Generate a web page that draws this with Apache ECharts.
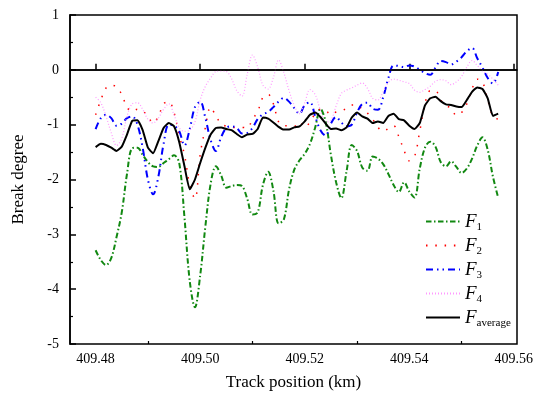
<!DOCTYPE html>
<html>
<head>
<meta charset="utf-8">
<script src="https://cdn.jsdelivr.net/npm/echarts@6/dist/echarts.min.js"></script>
<style>
html,body{margin:0;padding:0;background:#fff;}
#chart{width:542px;height:399px;}
</style>
</head>
<body>
<div id="chart"></div>
<script>
// Track positions (km)
const positions = [
 409.480,409.481,409.482,409.483,409.484,409.485,409.486,409.487,409.488,409.489,
 409.490,409.491,409.492,409.493,409.494,409.495,409.496,409.497,409.498,409.499,
 409.500,409.501,409.502,409.503,409.504,409.505,409.506,409.507,409.508,409.509,
 409.510,409.511,409.512,409.513,409.514,409.515,409.516,409.517,409.518,409.519,
 409.520,409.521,409.522,409.523,409.524,409.525,409.526,409.527,409.528,409.529,
 409.530,409.531,409.532,409.533,409.534,409.535,409.536,409.537,409.538,409.539,
 409.540,409.541,409.542,409.543,409.544,409.545,409.546,409.547,409.548,409.549,
 409.550,409.551,409.552,409.553,409.554,409.555,409.556,409.557
];
const F1 = [
 -3.29,-3.47,-3.56,-3.43,-3.05,-2.60,-1.90,-1.43,-1.42,-1.55,
 -1.68,-1.76,-1.77,-1.70,-1.63,-1.56,-1.70,-2.70,-3.85,-4.33,
 -3.75,-2.85,-2.08,-1.76,-1.92,-2.15,-2.12,-2.10,-2.12,-2.35,
 -2.64,-2.60,-2.10,-1.86,-2.20,-2.80,-2.73,-2.18,-1.82,-1.65,
 -1.53,-1.35,-1.05,-0.71,-0.95,-1.55,-2.05,-2.34,-1.85,-1.37,
 -1.48,-1.78,-1.84,-1.58,-1.62,-1.72,-1.90,-2.10,-2.23,-2.05,
 -2.22,-2.33,-1.80,-1.42,-1.31,-1.40,-1.68,-1.76,-1.67,-1.77,
 -1.88,-1.80,-1.62,-1.38,-1.23,-1.46,-1.95,-2.33
];
const F2 = [
 -0.82,-0.55,-0.33,-0.28,-0.31,-0.45,-0.68,-0.76,-0.72,-0.75,
 -0.85,-0.97,-0.85,-0.62,-0.58,-0.78,-1.20,-1.55,-2.10,-2.35,
 -1.55,-1.05,-0.68,-0.84,-0.98,-1.03,-1.05,-1.05,-1.05,-1.06,
 -0.90,-0.76,-0.50,-0.45,-0.62,-0.95,-1.02,-1.02,-1.03,-0.95,
 -1.05,-0.95,-0.80,-0.72,-0.74,-0.82,-0.77,-0.75,-0.70,-0.64,
 -0.64,-0.72,-0.79,-0.90,-1.05,-1.12,-1.07,-1.02,-1.22,-1.47,
 -1.66,-1.58,-1.12,-0.62,-0.38,-0.38,-0.55,-0.65,-0.70,-0.83,
 -0.78,-0.62,-0.35,-0.17,-0.22,-0.55,-0.85,-0.90
];
const F3 = [
 -1.08,-0.88,-0.82,-0.88,-1.02,-0.98,-0.88,-0.85,-1.00,-1.42,
 -2.00,-2.27,-1.95,-1.35,-1.00,-1.02,-1.12,-1.38,-1.08,-0.68,
 -0.58,-0.88,-1.28,-1.48,-1.23,-1.06,-1.03,-1.06,-1.16,-1.15,
 -1.06,-0.90,-0.81,-0.77,-0.68,-0.58,-0.51,-0.58,-0.70,-0.80,
 -0.64,-0.59,-0.85,-1.10,-1.20,-0.98,-0.86,-0.96,-1.03,-1.00,
 -0.78,-0.62,-0.60,-0.71,-0.73,-0.50,-0.15,0.08,0.07,0.05,
 0.08,0.06,0.00,-0.06,-0.09,0.04,0.16,0.14,0.10,0.15,
 0.23,0.34,0.40,0.21,0.04,-0.15,-0.25,-0.04
];
const F4 = [
 -0.50,-0.60,-0.85,-1.15,-1.38,-1.25,-0.85,-0.62,-0.60,-0.72,
 -0.90,-0.97,-0.88,-0.72,-0.62,-0.82,-1.06,-1.12,-1.10,-0.95,
 -0.55,-0.30,-0.15,-0.03,-0.02,-0.03,-0.16,-0.38,-0.48,-0.08,
 0.27,0.05,-0.28,-0.35,-0.14,0.18,-0.05,-0.38,-0.65,-0.80,
 -0.60,-0.36,-0.45,-0.74,-0.95,-0.92,-0.66,-0.43,-0.37,-0.33,
 -0.28,-0.24,-0.34,-0.52,-0.55,-0.40,-0.23,-0.17,-0.19,-0.22,
 -0.25,-0.37,-0.41,-0.36,-0.30,-0.21,-0.18,-0.20,-0.27,-0.22,
 -0.12,0.05,0.17,0.08,-0.02,-0.08,-0.17,-0.28
];
const Favg = [
 -1.41,-1.35,-1.37,-1.42,-1.48,-1.40,-1.18,-0.93,-0.92,-1.10,
 -1.42,-1.52,-1.30,-1.06,-0.97,-1.03,-1.32,-1.76,-2.18,-2.00,
 -1.70,-1.42,-1.18,-1.06,-1.05,-1.08,-1.10,-1.17,-1.23,-1.18,
 -1.17,-1.08,-0.87,-0.89,-0.96,-1.04,-1.09,-1.09,-1.05,-1.03,
 -0.94,-0.82,-0.78,-0.86,-0.98,-1.08,-1.07,-1.10,-1.05,-0.87,
 -0.78,-0.85,-0.89,-0.97,-0.94,-0.97,-0.84,-0.80,-0.90,-0.92,
 -1.02,-1.08,-0.97,-0.65,-0.52,-0.49,-0.57,-0.63,-0.64,-0.67,
 -0.68,-0.55,-0.40,-0.32,-0.35,-0.52,-0.84,-0.80
];
const xMajorTicks = [409.48, 409.50, 409.52, 409.54, 409.56];
const xMinorTicks = [409.49, 409.51, 409.53, 409.55];
const seriesNames = ['F1', 'F2', 'F3', 'F4', 'Faverage'];

const FONT = 'Liberation Serif';
const pair = arr => arr.map((v, i) => [positions[i], v]);

const chart = echarts.init(document.getElementById('chart'), null, {renderer: 'canvas'});
const axisText = {fontFamily: FONT, fontSize: 14, color: '#000'};

const option = {
  animation: false,
  backgroundColor: '#fff',
  grid: {left: 70, right: 25, top: 15, bottom: 55, show: true, borderColor: '#000', borderWidth: 1.5, backgroundColor: 'transparent'},
  legend: {
    orient: 'vertical', left: 425, top: 210, padding: 0,
    itemWidth: 34, itemHeight: 12, itemGap: 1,
    itemStyle: {opacity: 0},
    data: seriesNames,
    formatter: n => n === 'Faverage' ? '{f|F}{s|average}' : '{f|F}{s|' + n.slice(1) + '}',
    textStyle: {
      fontFamily: FONT, color: '#000',
      rich: {
        f: {fontFamily: FONT, fontStyle: 'italic', fontSize: 19, color: '#000', lineHeight: 22},
        s: {fontFamily: FONT, fontSize: 11, color: '#000', padding: [12, 0, 0, 0], lineHeight: 22}
      }
    }
  },
  xAxis: [{
    type: 'value', min: 409.4751, max: 409.5606,
    axisLine: {show: true, lineStyle: {color: '#000', width: 1.5}},
    axisTick: {show: true, inside: true, length: 6, customValues: xMajorTicks, lineStyle: {color: '#000', width: 1.5}},
    axisLabel: {customValues: xMajorTicks, formatter: v => v.toFixed(2), margin: 8, ...axisText},
    splitLine: {show: false},
    name: 'Track position (km)', nameLocation: 'middle', nameGap: 30,
    nameTextStyle: {fontFamily: FONT, fontSize: 17, color: '#000'}
  }, {
    type: 'value', min: 409.4751, max: 409.5606, position: 'bottom', gridIndex: 0,
    axisLine: {show: false},
    axisTick: {show: true, inside: true, length: 3, customValues: xMinorTicks, lineStyle: {color: '#000', width: 1.2}},
    axisLabel: {show: false}, splitLine: {show: false}
  }],
  yAxis: {
    type: 'value', min: -5, max: 1, interval: 1,
    axisLine: {show: true, lineStyle: {color: '#000', width: 1.5}},
    axisTick: {show: true, inside: true, length: 6, lineStyle: {color: '#000', width: 1.5}},
    minorTick: {show: true, splitNumber: 2, length: 3, lineStyle: {color: '#000', width: 1.2}},
    axisLabel: {margin: 11, ...axisText},
    splitLine: {show: false}, minorSplitLine: {show: false},
    name: 'Break degree', nameLocation: 'middle', nameGap: 43, nameRotate: 90,
    nameTextStyle: {fontFamily: FONT, fontSize: 17, color: '#000'}
  },
  series: [
    {name: 'F1', type: 'line', data: pair(F1), symbol: 'none', smooth: 0.35,
     lineStyle: {color: '#118811', width: 2, type: [5.5, 2.5, 1.5, 2.5]}, itemStyle: {color: '#118811'}},
    {name: 'F2', type: 'line', data: pair(F2), symbol: 'none', smooth: 0.35,
     lineStyle: {color: '#ff0000', width: 1.5, type: [1.5, 7.8]}, itemStyle: {color: '#ff0000'}},
    {name: 'F3', type: 'line', data: pair(F3), symbol: 'none', smooth: 0.35,
     lineStyle: {color: '#0000ff', width: 2, type: [7, 4, 1.5, 4, 1.5, 4]}, itemStyle: {color: '#0000ff'}},
    {name: 'F4', type: 'line', data: pair(F4), symbol: 'none', smooth: 0.35,
     lineStyle: {color: '#ff99ff', width: 1.2, type: [1, 2]}, itemStyle: {color: '#ff99ff'}},
    {name: 'Faverage', type: 'line', data: pair(Favg), symbol: 'none', smooth: 0.15,
     lineStyle: {color: '#000', width: 2}, itemStyle: {color: '#000'},
     markLine: {silent: true, symbol: ['none', 'none'], label: {show: false},
       lineStyle: {color: '#000', type: 'solid', width: 1.5}, data: [{yAxis: 0}]}}
  ]
};
chart.setOption(option);
</script>
</body>
</html>
